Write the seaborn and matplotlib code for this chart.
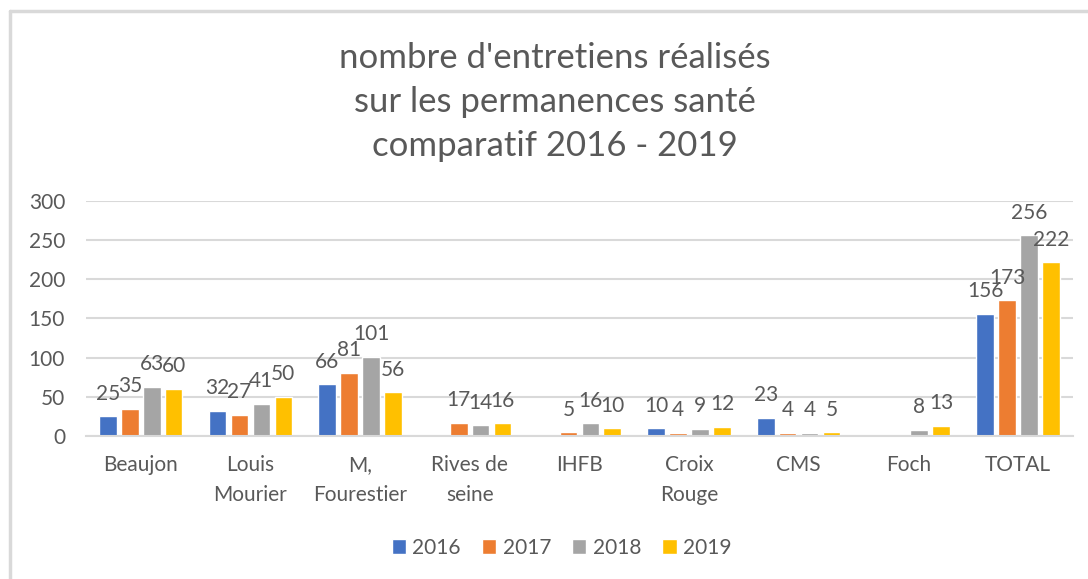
import numpy as np
import pandas as pd
import matplotlib.pyplot as plt
from matplotlib.lines import Line2D
import seaborn as sns

# Data
categories = ["Beaujon", "Louis\nMourier", "M,\nFourestier", "Rives de\nseine", "IHFB",
              "Croix\nRouge", "CMS", "Foch", "TOTAL"]
years = ["2016", "2017", "2018", "2019"]
v2016 = [25, 32, 66, np.nan, np.nan, 10, 23, np.nan, 156]
v2017 = [35, 27, 81, 17, 5, 4, 4, np.nan, 173]
v2018 = [63, 41, 101, 14, 16, 9, 4, 8, 256]
v2019 = [60, 50, 56, 16, 10, 12, 5, 13, 222]
colors = ["#4472C4", "#ED7D31", "#A5A5A5", "#FFC000"]

df = pd.DataFrame({"site": categories, "2016": v2016, "2017": v2017,
                   "2018": v2018, "2019": v2019})
long = df.melt(id_vars="site", var_name="annee", value_name="n").dropna()

sns.set_theme(style="white")
plt.rcParams["font.family"] = ["Lato", "DejaVu Sans"]
txt = "#595959"
grid = "#D9D9D9"

fig = plt.figure(figsize=(10.88, 5.79), dpi=100)
ax = fig.add_axes([0.079, 0.247, 0.907, 0.406])

sns.barplot(data=long, x="site", y="n", hue="annee", order=categories,
            hue_order=years, palette=colors, width=0.8, gap=0.2,
            saturation=1, errorbar=None, legend=True, ax=ax)

for c in ax.containers:
    ax.bar_label(c, fmt="%d", padding=9, fontsize=15, color=txt)

ax.set_ylim(0, 300)
ax.set_xlim(-0.5, len(categories) - 0.5)
ax.set_yticks(range(0, 301, 50))
ax.yaxis.grid(True, color=grid, lw=1.5)
ax.set_axisbelow(True)
for s in ["left", "right", "top"]:
    ax.spines[s].set_visible(False)
ax.spines["bottom"].set_color(grid)
ax.spines["bottom"].set_linewidth(1.5)
ax.tick_params(axis="y", length=0, pad=15, labelsize=15, labelcolor=txt)
ax.tick_params(axis="x", length=0, pad=14, labelsize=15, labelcolor=txt)
for lab in ax.get_xticklabels():
    lab.set_linespacing(1.6)
ax.set_xlabel("")
ax.set_ylabel("")

handles, labels = ax.get_legend_handles_labels()
ax.get_legend().remove()
fig.legend(handles, labels, loc="center", bbox_to_anchor=(0.516, 0.054),
           ncol=4, frameon=False, fontsize=15, labelcolor=txt,
           handlelength=0.7, handleheight=0.7, handletextpad=0.3,
           columnspacing=1.0)

fig.text(0.51, 0.824, "nombre d'entretiens réalisés\nsur les permanences santé\ncomparatif 2016 - 2019",
         ha="center", va="center", fontsize=25, color=txt, linespacing=1.45)

# light frame around the chart area
fig.add_artist(Line2D([10 / 1088, 10 / 1088], [0, 1 - 11 / 579],
                      transform=fig.transFigure, color=grid, lw=2.5))
fig.add_artist(Line2D([10 / 1088, 1], [1 - 11 / 579, 1 - 11 / 579],
                      transform=fig.transFigure, color=grid, lw=2.5))

fig.savefig("out.png", dpi=100)
